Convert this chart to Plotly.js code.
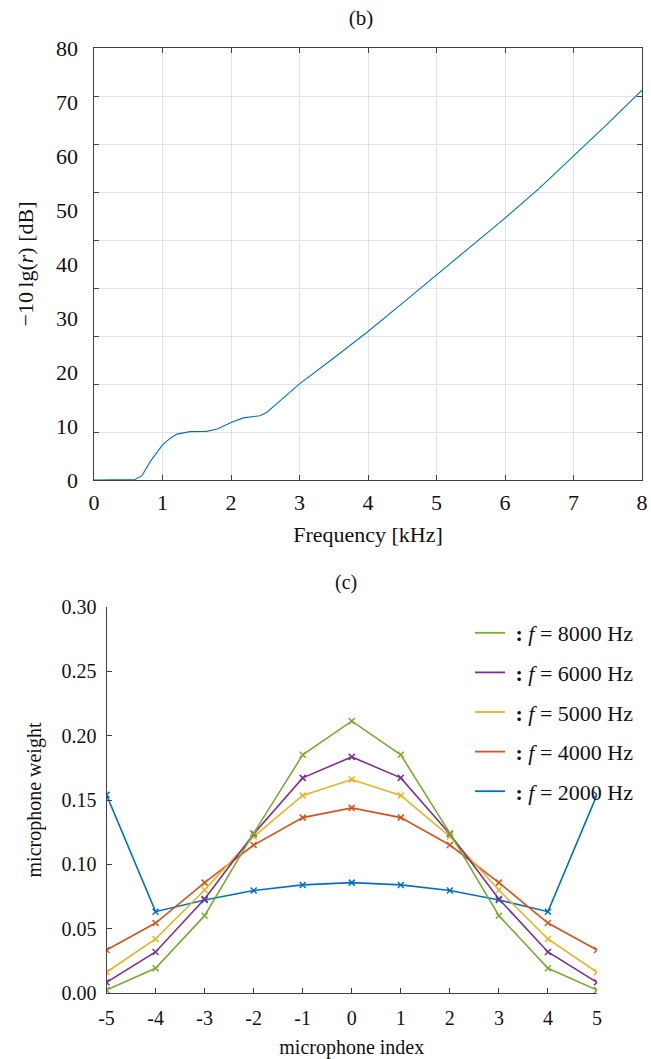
<!DOCTYPE html>
<html>
<head>
<meta charset="utf-8">
<script src="https://cdn.plot.ly/plotly-3.0.1.min.js"></script>
<style>html,body{margin:0;padding:0;background:#fff;}#chart{width:651px;height:1059px;}</style>
</head>
<body>
<div id="chart"></div>
<script>
// ---- (b) attenuation curve ----
const freqKHz = [0, 0.3, 0.6, 0.7, 0.82, 1.0, 1.11, 1.21, 1.4, 1.64, 1.79, 2.01, 2.18, 2.42, 2.52, 2.72, 3.0, 3.5, 4.0, 4.5, 5.0, 5.5, 6.0, 6.5, 7.0, 7.5, 8.0];
const attenDB = [0, 0, 0.1, 0.8, 3.4, 6.5, 7.7, 8.5, 8.95, 9.0, 9.4, 10.7, 11.5, 11.9, 12.5, 14.7, 17.8, 22.6, 27.5, 32.7, 38.0, 43.2, 48.5, 54.0, 60.0, 66.0, 72.2];
const freqTicks = [0, 1, 2, 3, 4, 5, 6, 7, 8];
const dbTicks = [0, 10, 20, 30, 40, 50, 60, 70, 80];

// ---- (c) microphone weights ----
const micIndex = [-5, -4, -3, -2, -1, 0, 1, 2, 3, 4, 5];
const micLabels = ['-5', '-4', '-3', '-2', '-1', '0', '1', '2', '3', '4', '5'];
const w2000 = [0.154, 0.0632, 0.0723, 0.0796, 0.084, 0.0858, 0.084, 0.0796, 0.0723, 0.0632, 0.154];
const w4000 = [0.0334, 0.0544, 0.0858, 0.115, 0.1363, 0.1439, 0.1363, 0.115, 0.0858, 0.0544, 0.0334];
const w5000 = [0.0161, 0.042, 0.080, 0.1216, 0.1535, 0.1659, 0.1535, 0.1216, 0.080, 0.042, 0.0161];
const w6000 = [0.0083, 0.0319, 0.0731, 0.1236, 0.1672, 0.1835, 0.1672, 0.1236, 0.0731, 0.0319, 0.0083];
const w8000 = [0.0023, 0.0192, 0.0601, 0.1242, 0.1851, 0.2113, 0.1851, 0.1242, 0.0601, 0.0192, 0.0023];
const weightTicks = [0, 0.05, 0.10, 0.15, 0.20, 0.25, 0.30];
const seriesFreqs = ['2000', '4000', '5000', '6000', '8000'];
const seriesColors = ['#0072BD', '#D95319', '#EDB120', '#7E2F8E', '#77AC30'];
const seriesData = [w2000, w4000, w5000, w6000, w8000];

const W = 651, H = 1059;
const serif = "'Liberation Serif', 'Times New Roman', serif";
const topDomain = [1 - 480 / H, 1 - 48 / H];
const nb = '\u00a0';

const traces = [];
// anchor trace for the grid axis of panel (b)
traces.push({x: [null], y: [null], xaxis: 'x', yaxis: 'y', type: 'scatter', mode: 'lines', showlegend: false, hoverinfo: 'skip'});
traces.push({
  x: freqKHz, y: attenDB, xaxis: 'x', yaxis: 'y3', type: 'scatter', mode: 'lines',
  line: {color: '#0072BD', width: 1.1}, showlegend: false, hoverinfo: 'skip'
});
for (let i = 0; i < seriesData.length; i++) {
  traces.push({
    x: micIndex, y: seriesData[i], xaxis: 'x2', yaxis: 'y2', type: 'scatter', mode: 'lines+markers',
    line: {color: seriesColors[i], width: 1.6},
    marker: {symbol: 'x-thin', size: 6, line: {color: seriesColors[i], width: 1.5}},
    showlegend: false
  });
}
// legend entries (top to bottom: 8000 ... 2000)
for (let i = seriesData.length - 1; i >= 0; i--) {
  traces.push({
    x: [null], y: [null], xaxis: 'x2', yaxis: 'y2', type: 'scatter', mode: 'lines',
    line: {color: seriesColors[i], width: 1.8},
    name: nb + '<b>:</b>' + nb + '<i>f</i>' + nb + '=' + nb + seriesFreqs[i] + nb + 'Hz',
    legendgroup: 'g' + i, showlegend: true
  });
}

const axLine = '#404040';
const txt = '#111';
const layout = {
  width: W, height: H,
  margin: {l: 0, r: 0, t: 0, b: 0},
  paper_bgcolor: '#fff', plot_bgcolor: 'rgba(0,0,0,0)',
  font: {family: serif, color: txt},
  showlegend: true,
  title: {text: '(b)', font: {family: serif, size: 21, color: txt}, x: 361 / W, xanchor: 'center', y: 1 - 18 / H, yanchor: 'middle'},
  xaxis: {
    domain: [94 / W, 642 / W], anchor: 'y', range: [0, 8],
    tickmode: 'array', tickvals: freqTicks, ticktext: freqTicks.map(String),
    ticks: 'inside', ticklen: 5, tickcolor: axLine, showline: true, linecolor: axLine, linewidth: 1,
    mirror: 'ticks', showgrid: true, gridcolor: '#e3e3e3', gridwidth: 1, zeroline: false,
    tickfont: {family: serif, size: 22, color: txt}, ticklabelstandoff: 3,
    title: {text: 'Frequency [kHz]', font: {family: serif, size: 22, color: txt}, standoff: 12}
  },
  yaxis: {
    domain: topDomain, anchor: 'x', range: [0, 9], dtick: 1, tick0: 0,
    ticks: 'inside', ticklen: 5, tickcolor: axLine, showline: true, linecolor: axLine, linewidth: 1,
    mirror: 'ticks', showgrid: true, gridcolor: '#e3e3e3', gridwidth: 1, zeroline: false,
    showticklabels: false
  },
  yaxis3: {
    domain: topDomain, overlaying: 'y', anchor: 'x', side: 'left', range: [0, 80],
    tickmode: 'array', tickvals: dbTicks, ticktext: dbTicks.map(String),
    ticks: '', showline: false, showgrid: false, zeroline: false,
    tickfont: {family: serif, size: 22, color: txt}, ticklabelstandoff: 15,
    title: {text: '−10\u2009lg(<i>r</i>)' + nb + '[dB]', font: {family: serif, size: 22, color: txt}, standoff: 16}
  },
  xaxis2: {
    domain: [106.5 / W, 597 / W], anchor: 'y2', range: [-5, 5],
    tickmode: 'array', tickvals: micIndex, ticktext: micLabels,
    ticks: 'inside', ticklen: 5, tickcolor: axLine, showline: true, linecolor: axLine, linewidth: 1,
    mirror: false, showgrid: false, zeroline: false,
    tickfont: {family: serif, size: 20, color: txt}, ticklabelstandoff: 7,
    title: {text: 'microphone index', font: {family: serif, size: 20, color: txt}, standoff: 12}
  },
  yaxis2: {
    domain: [1 - 993 / H, 1 - 607 / H], anchor: 'x2', range: [0, 0.30],
    tickmode: 'array', tickvals: weightTicks, ticktext: weightTicks.map(v => v.toFixed(2)),
    ticks: 'inside', ticklen: 5, tickcolor: axLine, showline: true, linecolor: axLine, linewidth: 1,
    mirror: false, showgrid: false, zeroline: false,
    tickfont: {family: serif, size: 20, color: txt}, ticklabelstandoff: 5,
    title: {text: 'microphone weight', font: {family: serif, size: 20, color: txt}, standoff: 14}
  },
  legend: {
    x: 470 / W, xanchor: 'left', y: 1 - 612 / H, yanchor: 'top',
    bgcolor: 'rgba(0,0,0,0)', borderwidth: 0,
    font: {family: serif, size: 22, color: txt},
    traceorder: 'grouped', tracegroupgap: 8, itemwidth: 30
  },
  annotations: [
    {text: '(c)', xref: 'paper', yref: 'paper', x: 346 / W, y: 1 - 582 / H, xanchor: 'center', yanchor: 'middle',
     showarrow: false, font: {family: serif, size: 20, color: txt}}
  ]
};

Plotly.newPlot('chart', traces, layout, {displayModeBar: false, staticPlot: true});
</script>
</body>
</html>
